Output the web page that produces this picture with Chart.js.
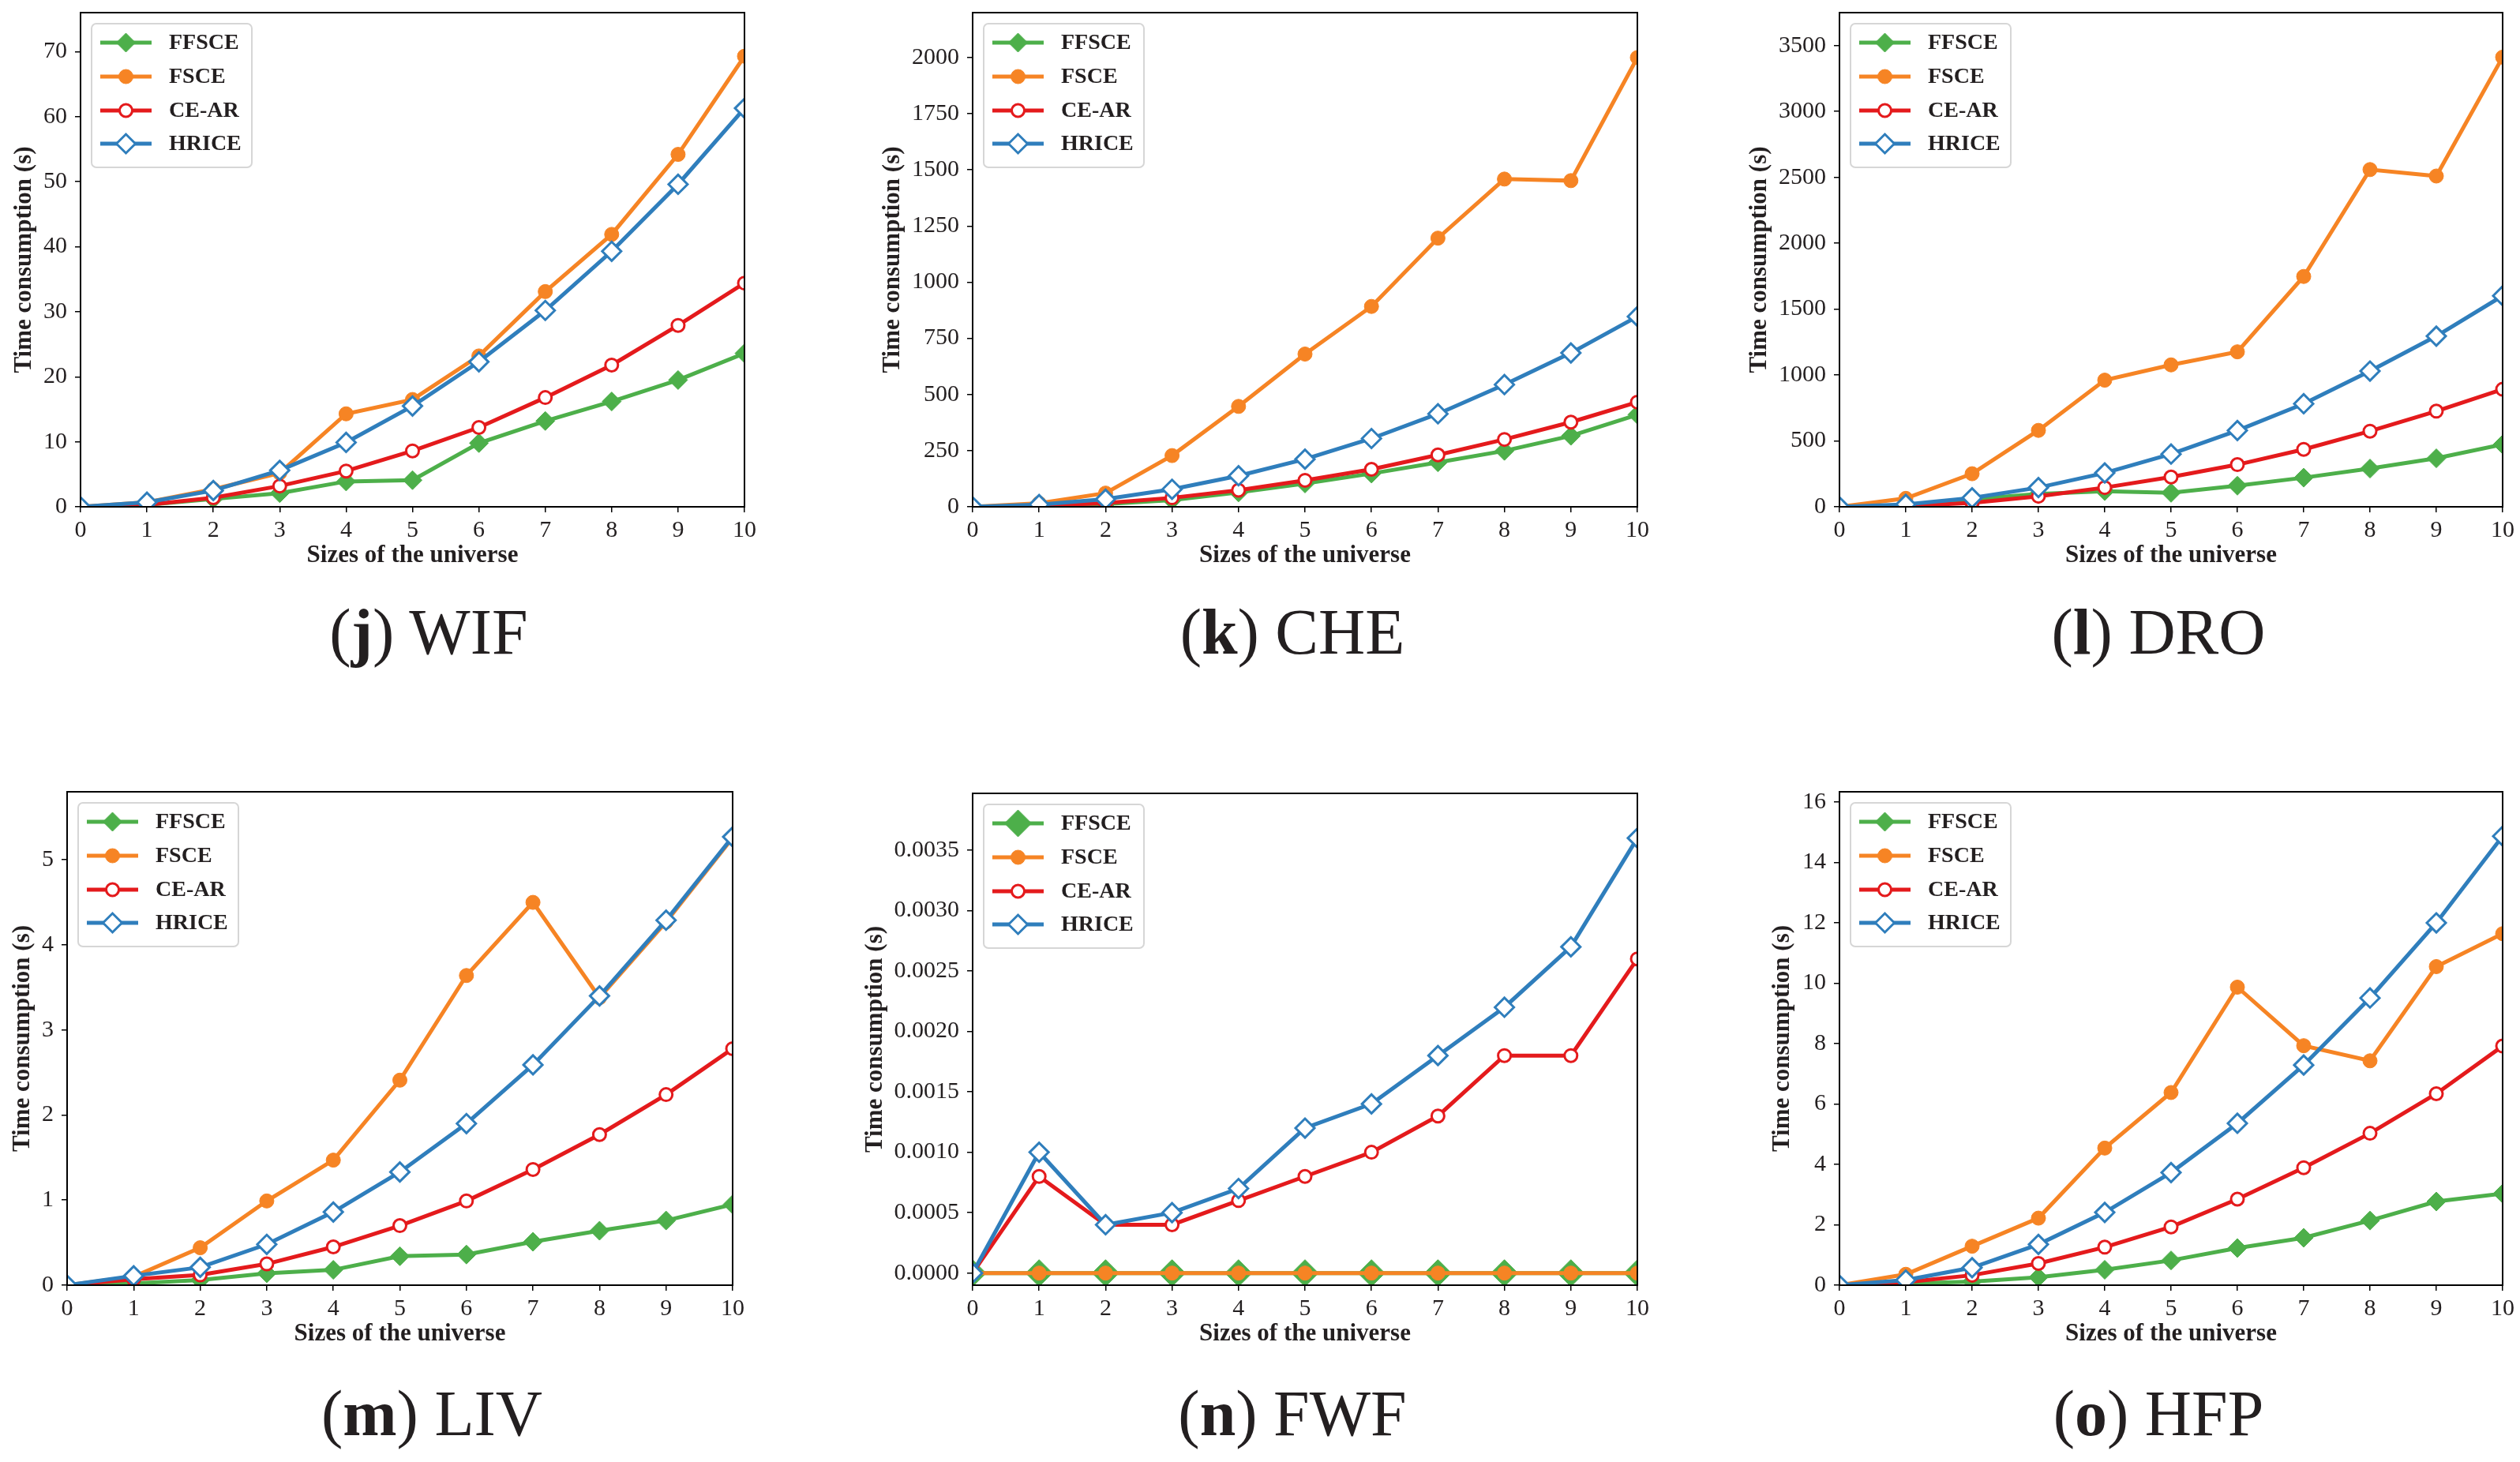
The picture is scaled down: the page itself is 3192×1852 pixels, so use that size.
<!DOCTYPE html>
<html>
<head>
<meta charset="utf-8">
<script src="https://cdn.jsdelivr.net/npm/chart.js@4.4.1/dist/chart.umd.min.js"></script>
<style>
    body { margin: 0; background: #fff; }
    #page { position: relative; width: 3192px; height: 1852px; overflow: hidden; background: #fff; }
    #page canvas { position: absolute; }
    .cap {
        position: absolute; width: 600px; text-align: center;
        font-family: 'Liberation Serif', serif; font-size: 82px; line-height: 82px; color: #231f20;
    }
</style>
</head>
<body>
<div id="page"></div>
<script>
// ---- data ----
const sizes = [0, 1, 2, 3, 4, 5, 6, 7, 8, 9, 10];
const xTickLabels = ['0', '1', '2', '3', '4', '5', '6', '7', '8', '9', '10'];
const seriesNames = ['FFSCE', 'FSCE', 'CE-AR', 'HRICE'];

// (j) WIF
const ffsceWIF = [0, 0.3, 1.2, 2.1, 3.9, 4.1, 9.8, 13.2, 16.2, 19.5, 23.6];
const fsceWIF = [0, 0.7, 2.7, 5.2, 14.3, 16.5, 23.2, 33.1, 41.9, 54.2, 69.3];
const cearWIF = [0, 0.3, 1.4, 3.2, 5.5, 8.6, 12.2, 16.8, 21.8, 27.9, 34.4];
const hriceWIF = [0, 0.7, 2.5, 5.6, 9.9, 15.5, 22.3, 30.2, 39.3, 49.6, 61.3];
const yTicksWIF = ['0', '10', '20', '30', '40', '50', '60', '70'];

// (k) CHE
const ffsceCHE = [0, 3, 12, 30, 64, 104, 148, 198, 249, 316, 410];
const fsceCHE = [0, 16, 61, 228, 447, 680, 892, 1196, 1459, 1452, 2000];
const cearCHE = [0, 4, 17, 40, 74, 118, 167, 231, 300, 377, 466];
const hriceCHE = [0, 10, 34, 78, 138, 212, 304, 414, 544, 685, 847];
const yTicksCHE = ['0', '250', '500', '750', '1000', '1250', '1500', '1750', '2000'];

// (l) DRO
const ffsceDRO = [0, 10, 58, 97, 119, 106, 160, 221, 290, 368, 473];
const fsceDRO = [0, 64, 251, 580, 961, 1077, 1176, 1748, 2559, 2510, 3412];
const cearDRO = [0, 5, 30, 80, 146, 226, 320, 436, 574, 726, 892];
const hriceDRO = [0, 18, 68, 146, 257, 400, 579, 782, 1030, 1295, 1601];
const yTicksDRO = ['0', '500', '1000', '1500', '2000', '2500', '3000', '3500'];

// (m) LIV
const ffsceLIV = [0, 0.02, 0.06, 0.14, 0.18, 0.34, 0.36, 0.51, 0.64, 0.76, 0.95];
const fsceLIV = [0, 0.10, 0.44, 0.99, 1.47, 2.41, 3.64, 4.50, 3.38, 4.27, 5.26];
const cearLIV = [0, 0.07, 0.12, 0.25, 0.45, 0.70, 0.99, 1.36, 1.77, 2.24, 2.78];
const hriceLIV = [0, 0.11, 0.21, 0.48, 0.86, 1.33, 1.90, 2.59, 3.40, 4.29, 5.27];
const yTicksLIV = ['0', '1', '2', '3', '4', '5'];

// (n) FWF
const ffsceFWF = [0, 0, 0, 0, 0, 0, 0, 0, 0, 0, 0];
const fsceFWF = [0, 0, 0, 0, 0, 0, 0, 0, 0, 0, 0];
const cearFWF = [0, 0.0008, 0.0004, 0.0004, 0.0006, 0.0008, 0.0010, 0.0013, 0.0018, 0.0018, 0.0026];
const hriceFWF = [0, 0.0010, 0.0004, 0.0005, 0.0007, 0.0012, 0.0014, 0.0018, 0.0022, 0.0027, 0.0036];
const yTicksFWF = ['0.0000', '0.0005', '0.0010', '0.0015', '0.0020', '0.0025', '0.0030', '0.0035'];

// (o) HFP
const ffsceHFP = [0, 0.05, 0.12, 0.26, 0.51, 0.82, 1.23, 1.57, 2.14, 2.77, 3.03];
const fsceHFP = [0, 0.36, 1.29, 2.22, 4.54, 6.38, 9.87, 7.93, 7.43, 10.55, 11.64];
const cearHFP = [0, 0.10, 0.33, 0.72, 1.26, 1.93, 2.85, 3.89, 5.03, 6.34, 7.92];
const hriceHFP = [0, 0.17, 0.58, 1.35, 2.41, 3.73, 5.36, 7.29, 9.51, 12.0, 14.87];
const yTicksHFP = ['0', '2', '4', '6', '8', '10', '12', '14', '16'];

// ---- panels ----
const panels = [
    {letter: 'j', name: 'WIF', values: [ffsceWIF, fsceWIF, cearWIF, hriceWIF], yTicks: yTicksWIF, yMin: 0, yMax: 76},
    {letter: 'k', name: 'CHE', values: [ffsceCHE, fsceCHE, cearCHE, hriceCHE], yTicks: yTicksCHE, yMin: 0, yMax: 2200},
    {letter: 'l', name: 'DRO', values: [ffsceDRO, fsceDRO, cearDRO, hriceDRO], yTicks: yTicksDRO, yMin: 0, yMax: 3750},
    {letter: 'm', name: 'LIV', values: [ffsceLIV, fsceLIV, cearLIV, hriceLIV], yTicks: yTicksLIV, yMin: 0, yMax: 5.8},
    {letter: 'n', name: 'FWF', values: [ffsceFWF, fsceFWF, cearFWF, hriceFWF], yTicks: yTicksFWF, yMin: -0.0001, yMax: 0.00397, bigDiamond: true},
    {letter: 'o', name: 'HFP', values: [ffsceHFP, fsceHFP, cearHFP, hriceHFP], yTicks: yTicksHFP, yMin: 0, yMax: 16.34}
];

// placement of each panel on the page
const layout = [
    {canvasLeft: 8, plotLeft: 102, plotRight: 943, row: 0, capX: 543},
    {canvasLeft: 1108, plotLeft: 1232, plotRight: 2074, row: 0, capX: 1637},
    {canvasLeft: 2206, plotLeft: 2330, plotRight: 3170, row: 0, capX: 2734},
    {canvasLeft: 6, plotLeft: 85, plotRight: 928, row: 1, capX: 547},
    {canvasLeft: 1086, plotLeft: 1232, plotRight: 2074, row: 1, capX: 1637},
    {canvasLeft: 2235, plotLeft: 2330, plotRight: 3170, row: 1, capX: 2734}
];
const rows = [
    {canvasTop: 0, plotTop: 16, plotBottom: 642, capTop: 760},
    {canvasTop: 987, plotTop: 1003, plotBottom: 1628, capTop: 1750}
];

const styles = [
    {color: '#4daf4a', point: 'rectRot', radius: 12, fill: '#4daf4a', bw: 1},
    {color: '#f68424', point: 'circle', radius: 9, fill: '#f68424', bw: 1},
    {color: '#e41a1c', point: 'circle', radius: 8, fill: '#ffffff', bw: 3},
    {color: '#2f7ebc', point: 'rectRot', radius: 12, fill: '#ffffff', bw: 3}
];

const FONT = "'Liberation Serif', 'Times New Roman', serif";
const INK = '#231f20';
const LINE_W = 5;

function drawMarker(ctx, st, r, x, y) {
    ctx.beginPath();
    if (st.point === 'circle') {
        ctx.arc(x, y, r, 0, Math.PI * 2);
    } else {
        ctx.moveTo(x - r, y);
        ctx.lineTo(x, y - r);
        ctx.lineTo(x + r, y);
        ctx.lineTo(x, y + r);
        ctx.closePath();
    }
    ctx.fillStyle = st.fill;
    ctx.fill();
    ctx.lineWidth = st.bw;
    ctx.strokeStyle = st.color;
    ctx.stroke();
}

const framePlugin = {
    id: 'frame',
    afterDatasetsDraw(chart) {
        const a = chart.chartArea;
        const ctx = chart.ctx;
        ctx.save();
        ctx.strokeStyle = '#000';
        ctx.lineWidth = 2;
        ctx.strokeRect(a.left, a.top, a.right - a.left, a.bottom - a.top);
        ctx.restore();
    }
};

const boxLegend = {
    id: 'boxLegend',
    afterDraw(chart) {
        const a = chart.chartArea;
        const ctx = chart.ctx;
        const bx = a.left + 14, by = a.top + 14, bw = 203, bh = 182;
        const rowsY = [24, 67, 110, 152];
        ctx.save();
        ctx.fillStyle = 'rgba(255,255,255,0.8)';
        ctx.strokeStyle = '#d6d6d6';
        ctx.lineWidth = 2;
        ctx.beginPath();
        ctx.roundRect(bx, by, bw, bh, 6);
        ctx.fill();
        ctx.stroke();
        chart.data.datasets.forEach(function (ds, i) {
            const st = styles[i];
            const y = by + rowsY[i];
            ctx.beginPath();
            ctx.moveTo(bx + 11, y);
            ctx.lineTo(bx + 76, y);
            ctx.strokeStyle = st.color;
            ctx.lineWidth = LINE_W;
            ctx.stroke();
            drawMarker(ctx, st, ds.pointRadius, bx + 43.5, y);
            ctx.fillStyle = INK;
            ctx.font = 'bold 28px ' + FONT;
            ctx.textBaseline = 'middle';
            ctx.textAlign = 'left';
            ctx.fillText(ds.label, bx + 98, y + 1);
        });
        ctx.restore();
    }
};

const page = document.getElementById('page');

panels.forEach(function (p, idx) {
    const L = layout[idx];
    const R = rows[L.row];
    const xScaleH = 85;
    const width = L.plotRight + 20 - L.canvasLeft;
    const height = R.plotBottom + xScaleH - R.canvasTop;

    const canvas = document.createElement('canvas');
    canvas.width = width;
    canvas.height = height;
    canvas.style.left = L.canvasLeft + 'px';
    canvas.style.top = R.canvasTop + 'px';
    canvas.style.width = width + 'px';
    canvas.style.height = height + 'px';
    page.appendChild(canvas);

    const cap = document.createElement('div');
    cap.className = 'cap';
    cap.style.left = (L.capX - 300) + 'px';
    cap.style.top = R.capTop + 'px';
    cap.innerHTML = '(<b>' + p.letter + '</b>) ' + p.name;
    page.appendChild(cap);

    const datasets = seriesNames.map(function (name, i) {
        const st = styles[i];
        let r = st.radius;
        if (p.bigDiamond && i === 0) r = 17;
        return {
            label: name,
            data: sizes.map((x, k) => ({x: x, y: p.values[i][k]})),
            borderColor: st.color,
            borderWidth: LINE_W,
            backgroundColor: st.color,
            pointStyle: st.point,
            pointRadius: r,
            pointHoverRadius: r,
            pointBackgroundColor: st.fill,
            pointBorderColor: st.color,
            pointBorderWidth: st.bw,
            tension: 0,
            fill: false,
            order: 4 - i
        };
    });

    const yTickValues = p.yTicks.map(Number);

    new Chart(canvas, {
        type: 'line',
        data: {datasets: datasets},
        plugins: [framePlugin, boxLegend],
        options: {
            responsive: false,
            animation: false,
            devicePixelRatio: 1,
            layout: {padding: {top: R.plotTop - R.canvasTop, right: 20, left: 0, bottom: 0}},
            plugins: {legend: {display: false}, tooltip: {enabled: false}},
            scales: {
                x: {
                    type: 'linear',
                    min: 0,
                    max: 10,
                    afterFit: function (s) {
                        s.height = xScaleH;
                        s.paddingLeft = 0;
                        s.paddingRight = 0;
                    },
                    afterBuildTicks: function (s) { s.ticks = sizes.map(v => ({value: v})); },
                    ticks: {
                        autoSkip: false,
                        maxRotation: 0,
                        padding: 5,
                        color: INK,
                        font: {family: FONT, size: 30},
                        callback: (v, i) => xTickLabels[i]
                    },
                    grid: {drawOnChartArea: false, drawTicks: true, tickLength: 7, color: '#000', lineWidth: 1.5},
                    border: {display: true, color: '#000', width: 2},
                    title: {
                        display: true,
                        text: 'Sizes of the universe',
                        color: INK,
                        font: {family: FONT, size: 31, weight: 'bold'},
                        padding: {top: 4, bottom: 4}
                    }
                },
                y: {
                    type: 'linear',
                    min: p.yMin,
                    max: p.yMax,
                    afterFit: function (s) {
                        s.width = L.plotLeft - L.canvasLeft;
                        s.paddingTop = 0;
                        s.paddingBottom = 0;
                    },
                    afterBuildTicks: function (s) { s.ticks = yTickValues.map(v => ({value: v})); },
                    ticks: {
                        autoSkip: false,
                        padding: 10,
                        color: INK,
                        font: {family: FONT, size: 30},
                        callback: (v, i) => p.yTicks[i]
                    },
                    grid: {drawOnChartArea: false, drawTicks: true, tickLength: 7, color: '#000', lineWidth: 1.5},
                    border: {display: true, color: '#000', width: 2},
                    title: {
                        display: true,
                        text: 'Time consumption (s)',
                        color: INK,
                        font: {family: FONT, size: 31, weight: 'bold'},
                        padding: {top: 4, bottom: 4}
                    }
                }
            }
        }
    });
});
</script>
</body>
</html>
